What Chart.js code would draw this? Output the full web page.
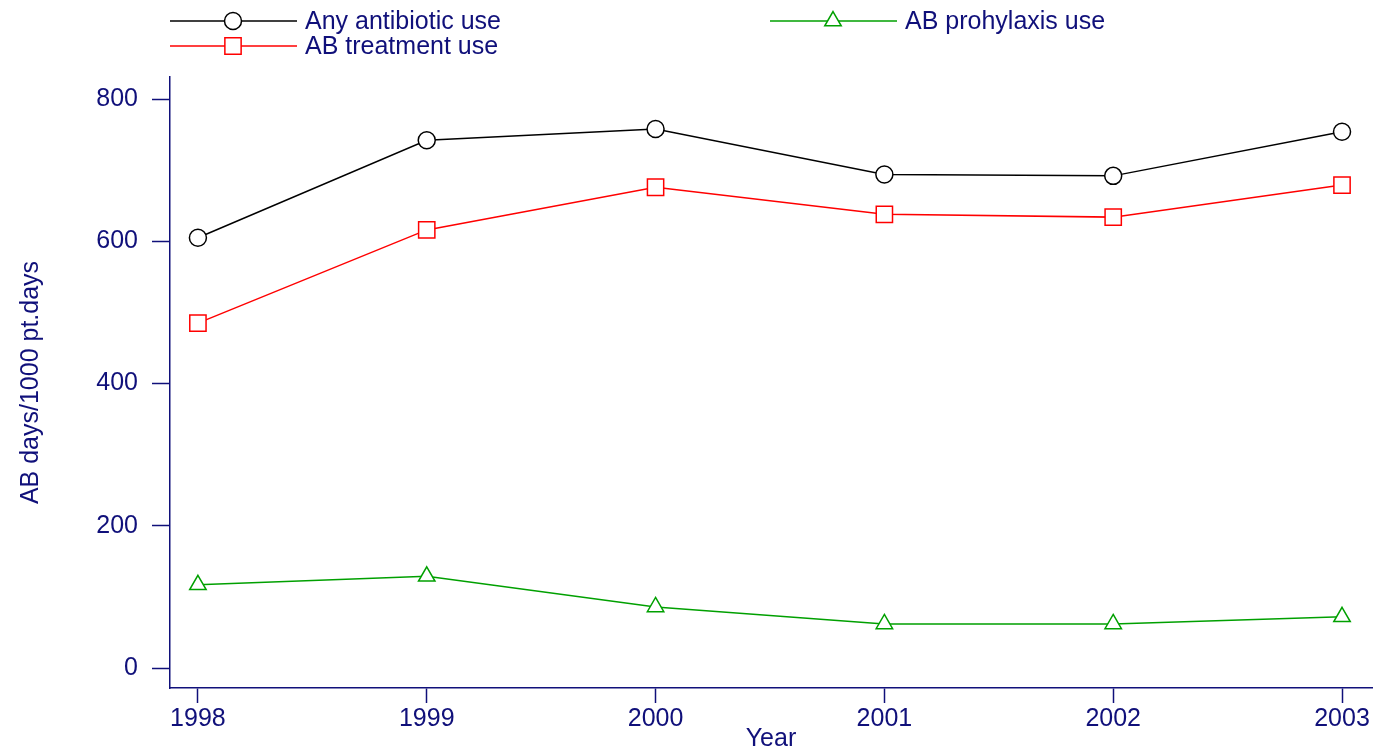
<!DOCTYPE html>
<html>
<head>
<meta charset="utf-8">
<script src="https://cdn.jsdelivr.net/npm/chart.js@4"></script>
<style>
  html, body { margin: 0; padding: 0; background: #fff; }
</style>
</head>
<body>
<canvas id="chart" width="1377" height="754"></canvas>
<script>
// data
const years = [1998, 1999, 2000, 2001, 2002, 2003];
const anyUse = [605, 742, 758, 694, 692, 754];
const treatmentUse = [485, 616, 676, 638, 634, 679];
const prophylaxisUse = [117, 129, 86, 62, 62, 72];
const yTicks = [0, 200, 400, 600, 800];

const navy = '#10107a';
const fontFam = '"Liberation Sans", Arial, Helvetica, sans-serif';
const fontSize = 25;

const toPoints = vals => vals.map((v, i) => ({ x: years[i], y: v }));

// legend drawn as line + marker + text, like the original
const legendPlugin = {
  id: 'lineLegend',
  afterDraw(chart) {
    const ctx = chart.ctx;
    const slots = [
      { ds: 0, x: 170, y: 21 },
      { ds: 2, x: 770, y: 21 },
      { ds: 1, x: 170, y: 46 }
    ];
    ctx.save();
    slots.forEach(s => {
      const d = chart.data.datasets[s.ds];
      ctx.strokeStyle = d.borderColor;
      ctx.lineWidth = d.borderWidth;
      ctx.beginPath();
      ctx.moveTo(s.x, s.y);
      ctx.lineTo(s.x + 127, s.y);
      ctx.stroke();
      ctx.fillStyle = '#fff';
      Chart.helpers.drawPoint(ctx, {
        pointStyle: d.pointStyle,
        radius: d.pointRadius,
        borderWidth: d.pointBorderWidth,
        rotation: 0
      }, s.x + 63, s.y);
      ctx.fillStyle = navy;
      ctx.font = fontSize + 'px ' + fontFam;
      ctx.textBaseline = 'middle';
      ctx.fillText(d.label, s.x + 135, s.y + 1);
    });
    ctx.restore();
  }
};

new Chart(document.getElementById('chart'), {
  type: 'line',
  data: {
    datasets: [
      {
        label: 'Any antibiotic use',
        data: toPoints(anyUse),
        borderColor: '#000000',
        backgroundColor: '#ffffff',
        borderWidth: 1.5,
        pointStyle: 'circle',
        pointRadius: 8.5,
        pointBorderWidth: 1.5
      },
      {
        label: 'AB treatment use',
        data: toPoints(treatmentUse),
        borderColor: '#ff0000',
        backgroundColor: '#ffffff',
        borderWidth: 1.5,
        pointStyle: 'rect',
        pointRadius: 11.5,
        pointBorderWidth: 1.5
      },
      {
        label: 'AB prohylaxis use',
        data: toPoints(prophylaxisUse),
        borderColor: '#00a000',
        backgroundColor: '#ffffff',
        borderWidth: 1.5,
        pointStyle: 'triangle',
        pointRadius: 9.5,
        pointBorderWidth: 1.5
      }
    ]
  },
  options: {
    responsive: false,
    animation: false,
    devicePixelRatio: 1,
    layout: { autoPadding: false, padding: { top: 77, right: 5, left: 0, bottom: 0 } },
    plugins: {
      legend: { display: false },
      tooltip: { enabled: false }
    },
    scales: {
      x: {
        type: 'linear',
        min: 1997.878,
        max: 2003.131,
        afterBuildTicks: s => { s.ticks = years.map(v => ({ value: v })); },
        afterFit: s => { s.height = 66; s.paddingLeft = 0; s.paddingRight = 0; },
        border: { color: navy, width: 1.5 },
        grid: { drawOnChartArea: false, tickLength: 15, tickColor: navy, tickWidth: 1.5 },
        ticks: {
          color: navy,
          font: { family: fontFam, size: fontSize },
          padding: 1,
          maxRotation: 0,
          callback: v => String(v)
        },
        title: {
          display: true,
          text: 'Year',
          color: navy,
          font: { family: fontFam, size: fontSize },
          padding: { top: -8, bottom: 0 }
        }
      },
      y: {
        min: -28,
        max: 831,
        afterBuildTicks: s => { s.ticks = yTicks.map(v => ({ value: v })); },
        afterFit: s => { s.width = 170; s.paddingTop = 0; s.paddingBottom = 0; },
        border: { color: navy, width: 1.5 },
        grid: { drawOnChartArea: false, tickLength: 18, tickColor: navy, tickWidth: 1.5 },
        ticks: {
          color: navy,
          font: { family: fontFam, size: fontSize },
          padding: 14
        },
        title: {
          display: true,
          text: 'AB days/1000 pt.days',
          color: navy,
          font: { family: fontFam, size: fontSize },
          padding: { top: 16, bottom: 0 }
        }
      }
    }
  },
  plugins: [legendPlugin]
});
</script>
</body>
</html>
